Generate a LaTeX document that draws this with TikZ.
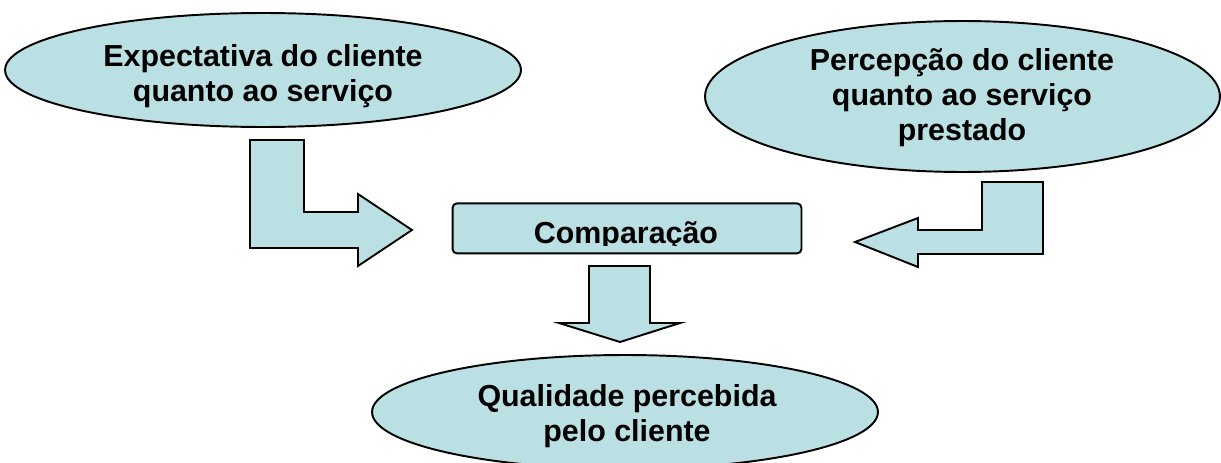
\documentclass[tikz,border=0pt]{standalone}
\usepackage{fontspec}
\setmainfont{Liberation Sans}
\usetikzlibrary{shapes.geometric}

\definecolor{paleblue}{RGB}{187,224,227}
\tikzset{
  blob/.style={ellipse, draw, fill=paleblue, line width=1.1pt, inner sep=0pt},
  cmpbox/.style={rectangle, draw, fill=paleblue, line width=1.1pt, rounded corners=2.5pt, inner sep=0pt},
  blockarr/.style={draw, fill=paleblue, line width=1.1pt, line join=miter},
  txt/.style={anchor=base, align=center, inner sep=0pt,
    font=\fontsize{17.3pt}{19.9pt}\selectfont\bfseries}
}

\begin{document}
\begin{tikzpicture}[x=0.02cm, y=-0.02cm]
  \useasboundingbox (0,0) rectangle (1221,463);

  % text cut off at the bottom, as in the slide
  % (the y given is the baseline of the last line)
  \newcommand{\cliplabel}[5]{
    \begin{scope}
      \clip (0,0) rectangle (1221,#4);
      \node[txt] (#1) at (#2,#3) {#5};
    \end{scope}
  };

  \node[blob, minimum width=10.32cm, minimum height=2.28cm] (expect) at (263,70) {};
  \node[blob, minimum width=10.3cm, minimum height=3.02cm] (percep) at (962.5,96.5) {};
  \node[cmpbox, minimum width=6.98cm, minimum height=1cm] (compare) at (627,228.4) {};
  \node[blob, minimum width=10.12cm, minimum height=2.28cm] (quality) at (625,412) {};

  % block arrows
  \draw[blockarr] (250,140) -- (304,140) -- (304,212) -- (358,212) -- (358,194) --
    (412,230) -- (358,266) -- (358,248) -- (250,248) -- cycle;
  \draw[blockarr] (1043,182) -- (1043,254) -- (918,254) -- (918,267) -- (855,242) --
    (918,218) -- (918,230) -- (982,230) -- (982,182) -- cycle;
  \draw[blockarr] (589,266) -- (650,266) -- (650,323) -- (680,323) -- (620,342) --
    (559,323) -- (589,323) -- cycle;

  \cliplabel{expecttxt}{263}{101.7}{108}{Expectativa do cliente\\quanto ao serviço};
  \cliplabel{perceptxt}{962}{140}{147}{Percepção do cliente\\quanto ao serviço\\prestado};
  \cliplabel{comparetxt}{626}{243.3}{245.5}{Comparação};
  \cliplabel{qualitytxt}{627}{441.7}{447}{Qualidade percebida\\pelo cliente};

\end{tikzpicture}
\end{document}
